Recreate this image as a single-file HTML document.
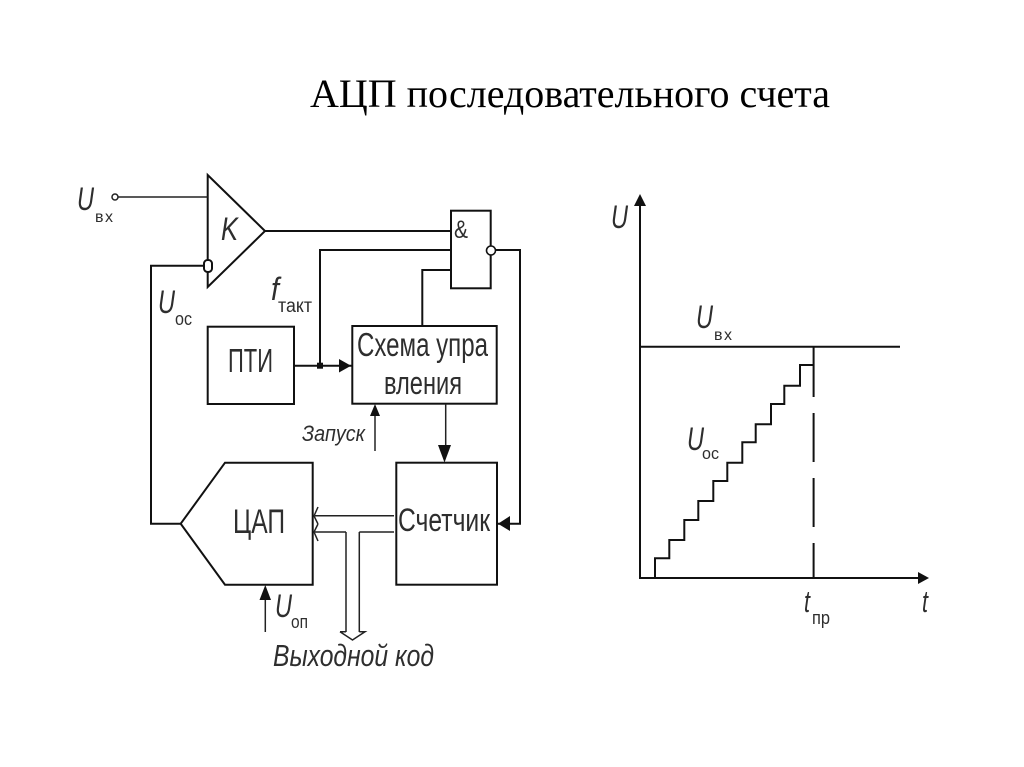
<!DOCTYPE html>
<html lang="ru">
<head>
<meta charset="utf-8">
<title>АЦП последовательного счета</title>
<style>
html,body{margin:0;padding:0;background:#fff;width:1024px;height:767px;overflow:hidden}
svg{display:block}
.l{fill:none;stroke:#111;stroke-width:2}
.t{fill:none;stroke:#222;stroke-width:1.5}
.a{fill:#111;stroke:none}
text{font-family:"Liberation Sans",sans-serif;fill:#2e2e2e}
.i{font-style:italic}
.title{font-family:"Liberation Serif",serif;fill:#000}
</style>
</head>
<body>
<svg width="1024" height="767" viewBox="0 0 1024 767" xmlns="http://www.w3.org/2000/svg">
<text class="title" x="310" y="107" font-size="40" textLength="520" lengthAdjust="spacingAndGlyphs">АЦП последовательного счета</text>

<g style="filter:blur(0.35px)">
<!-- comparator -->
<path class="l" d="M207.7 175V287L265 231Z"/>
<path class="t" d="M118 197H207.7"/>
<circle class="t" cx="115" cy="197" r="3" fill="#fff"/>
<path class="l" d="M265 231H451"/>
<path class="l" d="M204 265.7H151V523.7H181"/>
<rect x="204" y="260" width="8" height="12" rx="3.5" fill="#fff" stroke="#111" stroke-width="2"/>

<!-- AND -->
<rect class="l" x="451" y="210.7" width="39.7" height="77.6"/>
<path class="l" d="M320 365.7V250H451"/>
<path class="l" d="M422.3 326V270H451"/>
<circle cx="491" cy="250.5" r="4.5" fill="#fff" stroke="#111" stroke-width="1.6"/>
<path class="l" d="M495.5 250H520V523.7H498"/>
<path class="a" d="M498 523.7L510 516V531Z"/>

<!-- ГПИ -->
<rect class="l" x="207.7" y="326.7" width="86.3" height="77.3"/>
<path class="l" d="M294 365.7H352"/>
<path class="a" d="M339 359L351 365.7L339 372.5Z"/>
<rect class="a" x="317" y="362.7" width="6" height="6"/>

<!-- control -->
<rect class="l" x="352.3" y="326" width="144.4" height="77.7"/>
<path class="t" d="M375 451V410"/>
<path class="a" d="M375 404L380 416H370Z"/>
<path class="t" d="M445.7 404V450"/>
<path class="a" d="M444.5 462.5L438 445H451Z"/>

<!-- ЦАП -->
<path class="l" d="M180.7 523.7L225 462.7H312.7V584.7H225Z" stroke-width="1.7"/>
<path class="t" d="M265.3 632V592"/>
<path class="a" d="M265.3 585L271 600H259.5Z"/>

<!-- Счетчик -->
<rect class="l" x="396.3" y="462.7" width="100.7" height="122"/>
<path class="t" d="M315 515.7H394M315 532H346M359.3 532H394" stroke-width="1.8"/>
<path class="t" d="M346 532V632M359.3 532V632" stroke-width="1.8"/>
<path class="t" d="M318 507L314 516L318 524M318 524L314 532L318 541" stroke-width="1.4"/>
<path class="t" d="M340 631.7H346M359.3 631.7H365L352.5 640L340 631.7" stroke-width="1.4"/>

<!-- graph -->
<path class="l" d="M640 200V578H922"/>
<path class="a" d="M640 194L646 206H634Z"/>
<path class="a" d="M929 578L918 572V584Z"/>
<path class="l" d="M640 346.7H900"/>
<path class="l" d="M813.6 347V397M813.6 413V462M813.6 478V527M813.6 543V578"/>
<path class="l" stroke-width="1.8" d="M655 578V558.3H669.3V540H684.3V520H698.3V501H713.3V481H727.3V462.7H742.3V442.3H755.7V424.3H771V404H784.3V385.7H800V365H813.6"/>

<!-- labels -->
<text class="i" x="77" y="210" font-size="32" textLength="17" lengthAdjust="spacingAndGlyphs">U</text>
<text x="95" y="222" font-size="16" textLength="18">вх</text>
<text class="i" x="221" y="240" font-size="32" textLength="17" lengthAdjust="spacingAndGlyphs">K</text>
<text class="i" x="271" y="300" font-size="32" textLength="8" lengthAdjust="spacingAndGlyphs">f</text>
<text x="278" y="312" font-size="19" textLength="34" lengthAdjust="spacingAndGlyphs">такт</text>
<text class="i" x="158" y="313" font-size="32" textLength="17" lengthAdjust="spacingAndGlyphs">U</text>
<text x="175" y="325" font-size="18" textLength="17" lengthAdjust="spacingAndGlyphs">ос</text>
<text x="228" y="372" font-size="33" textLength="45" lengthAdjust="spacingAndGlyphs">ПТИ</text>
<text x="357" y="356" font-size="33" textLength="131" lengthAdjust="spacingAndGlyphs">Схема упра</text>
<text x="384" y="394" font-size="32" textLength="78" lengthAdjust="spacingAndGlyphs">вления</text>
<text class="i" x="302" y="441" font-size="22" textLength="63" lengthAdjust="spacingAndGlyphs">Запуск</text>
<text x="233" y="533" font-size="34" textLength="52" lengthAdjust="spacingAndGlyphs">ЦАП</text>
<text x="398" y="531" font-size="32" textLength="92" lengthAdjust="spacingAndGlyphs">Счетчик</text>
<text class="i" x="275" y="617" font-size="32" textLength="17" lengthAdjust="spacingAndGlyphs">U</text>
<text x="291" y="628" font-size="18" textLength="17" lengthAdjust="spacingAndGlyphs">оп</text>
<text class="i" x="273" y="666" font-size="31" textLength="161" lengthAdjust="spacingAndGlyphs">Выходной код</text>
<text x="454" y="238" font-size="25" textLength="14" lengthAdjust="spacingAndGlyphs">&amp;</text>
<text class="i" x="611" y="228" font-size="32" textLength="17" lengthAdjust="spacingAndGlyphs">U</text>
<text class="i" x="696" y="328" font-size="32" textLength="17" lengthAdjust="spacingAndGlyphs">U</text>
<text x="714" y="340" font-size="16" textLength="18">вх</text>
<text class="i" x="687" y="450" font-size="32" textLength="17" lengthAdjust="spacingAndGlyphs">U</text>
<text x="702" y="459" font-size="17" textLength="17" lengthAdjust="spacingAndGlyphs">ос</text>
<text class="i" x="922" y="612" font-size="31" textLength="6" lengthAdjust="spacingAndGlyphs">t</text>
<text class="i" x="804" y="612" font-size="31" textLength="6" lengthAdjust="spacingAndGlyphs">t</text>
<text x="812" y="624" font-size="18" textLength="18" lengthAdjust="spacingAndGlyphs">пр</text>
</g>
</svg>
</body>
</html>
